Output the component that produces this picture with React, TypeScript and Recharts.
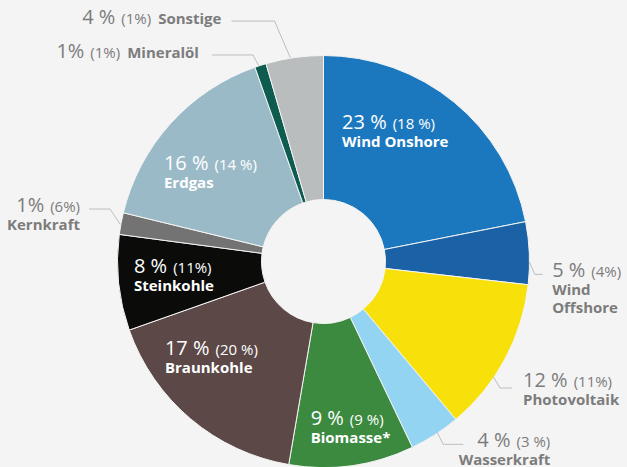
import { PieChart, Pie, Cell } from "recharts";

// Stromerzeugung nach Energieträgern
const sources = [
  "Wind Onshore",
  "Wind Offshore",
  "Photovoltaik",
  "Wasserkraft",
  "Biomasse*",
  "Braunkohle",
  "Steinkohle",
  "Kernkraft",
  "Erdgas",
  "Mineralöl",
  "Sonstige",
];
// slice sizes (angles)
const shares = [21.9, 4.9, 12.1, 4.0, 9.8, 16.9, 7.5, 1.7, 15.8, 0.9, 4.5];
const shareLabels = ["23 %", "5 %", "12 %", "4 %", "9 %", "17 %", "8 %", "1%", "16 %", "1%", "4 %"];
const prevLabels = ["(18 %)", "(4%)", "(11%)", "(3 %)", "(9 %)", "(20 %)", "(11%)", "(6%)", "(14 %)", "(1%)", "(1%)"];

const colors = [
  "#1c78be",
  "#1a62a5",
  "#f8e00a",
  "#93d4f3",
  "#3b8a3f",
  "#5c4846",
  "#0b0c0a",
  "#737373",
  "#9bbac8",
  "#0e5c4f",
  "#b9bdbe",
];

const data = sources.map((name, i) => ({ name, value: shares[i] }));

const FONT = "'Open Sans', sans-serif";
const GRAY = "#7c7c7c";
const LINE = "#bdbdbd";
const RAD = Math.PI / 180;

type InLayout = { kind: "in"; dx: number; dy: number };
type OutLayout = {
  kind: "out";
  sdx: number;
  sdy: number;
  ex: number;
  ey: number;
  hx: number;
  tx: number;
  ty: number;
  anchor: "start" | "end";
  inline?: boolean;
  split?: boolean;
};

const labelLayout: (InLayout | OutLayout)[] = [
  { kind: "in", dx: -73, dy: -21 },
  { kind: "out", sdx: 0, sdy: 9, ex: 5.5, ey: 12.3, hx: 8, tx: 9.3, ty: 2.4, anchor: "start", split: true },
  { kind: "out", sdx: -11.6, sdy: 17.7, ex: 6.7, ey: 11.3, hx: 12, tx: 11, ty: -0.7, anchor: "start" },
  { kind: "out", sdx: 2, sdy: -2.7, ex: 6.3, ey: 12.3, hx: 20, tx: 87, ty: 2.4, anchor: "end" },
  { kind: "in", dx: -32.7, dy: 20.7 },
  { kind: "in", dx: -65.6, dy: -16.7 },
  { kind: "in", dx: -46.1, dy: -3.7 },
  { kind: "out", sdx: -1, sdy: 0.5, ex: -10, ey: -15, hx: -21, tx: -9, ty: 2.7, anchor: "end" },
  { kind: "in", dx: -52.6, dy: 5.2 },
  { kind: "out", sdx: -1.5, sdy: 0.6, ex: -6, ey: -11, hx: -41, tx: -13, ty: 3, anchor: "end", inline: true },
  { kind: "out", sdx: -4, sdy: 0.5, ex: -16, ey: -37, hx: -43, tx: -10, ty: 3, anchor: "end", inline: true },
];

const polar = (cx: number, cy: number, r: number, angle: number) => ({
  x: cx + r * Math.cos(-angle * RAD),
  y: cy + r * Math.sin(-angle * RAD),
});

function renderLabel(props: any) {
  const { cx, cy, midAngle, outerRadius, index } = props;
  const cfg = labelLayout[index];
  const name = sources[index];

  if (cfg.kind === "in") {
    const p = polar(cx, cy, outerRadius * 0.7, midAngle);
    const x = p.x + cfg.dx;
    const y = p.y + cfg.dy;
    return (
      <g>
        <text x={x} y={y} fill="#fff" fontFamily={FONT}>
          <tspan fontSize={20}>{shareLabels[index]}</tspan>
          <tspan fontSize={15} dx={6}>{prevLabels[index]}</tspan>
        </text>
        <text x={x} y={y + 18} fill="#fff" fontFamily={FONT} fontSize={15} fontWeight={700}>
          {name}
        </text>
      </g>
    );
  }

  const p = polar(cx, cy, outerRadius, midAngle);
  const s = { x: p.x + cfg.sdx, y: p.y + cfg.sdy };
  const e = { x: s.x + cfg.ex, y: s.y + cfg.ey };
  const h = { x: e.x + cfg.hx, y: e.y };
  const tx = h.x + cfg.tx;
  const ty = h.y + cfg.ty;
  const nameLines = cfg.split ? name.split(" ") : [name];

  return (
    <g>
      <polyline
        points={`${s.x},${s.y} ${e.x},${e.y} ${h.x},${h.y}`}
        fill="none"
        stroke={LINE}
        strokeWidth={1}
      />
      <text x={tx} y={ty} fill={GRAY} fontFamily={FONT} textAnchor={cfg.anchor}>
        <tspan fontSize={20}>{shareLabels[index]}</tspan>
        <tspan fontSize={15} dx={6}>{prevLabels[index]}</tspan>
        {cfg.inline && (
          <tspan fontSize={15} fontWeight={700} dx={7}>
            {name}
          </tspan>
        )}
      </text>
      {!cfg.inline &&
        nameLines.map((line, k) => (
          <text
            key={k}
            x={tx}
            y={ty + 18 * (k + 1)}
            fill={GRAY}
            fontFamily={FONT}
            fontSize={15}
            fontWeight={700}
            textAnchor={cfg.anchor}
          >
            {line}
          </text>
        ))}
    </g>
  );
}

export default function App() {
  return (
    <div
      style={{
        position: "absolute",
        left: 0,
        top: 0,
        width: 627,
        height: 467,
        background: "#f4f4f4",
        overflow: "hidden",
      }}
    >
      <PieChart width={627} height={467} margin={{ top: 0, right: 0, bottom: 0, left: 0 }}>
        <Pie
          data={data}
          dataKey="value"
          nameKey="name"
          cx={323.5}
          cy={261.5}
          innerRadius={62}
          outerRadius={206}
          startAngle={90}
          endAngle={-270}
          stroke="#f4f4f4"
          strokeWidth={1}
          label={renderLabel}
          labelLine={false}
          isAnimationActive={false}
        >
          {data.map((d, i) => (
            <Cell key={d.name} fill={colors[i]} />
          ))}
        </Pie>
      </PieChart>
    </div>
  );
}
